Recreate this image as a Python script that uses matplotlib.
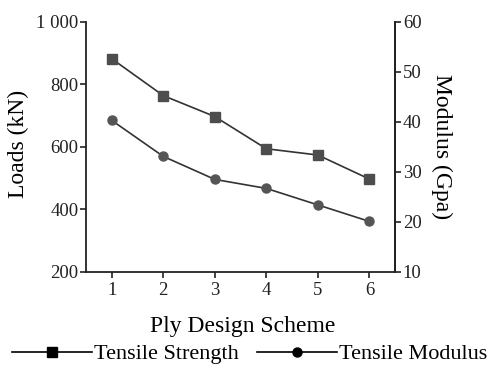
import matplotlib
matplotlib.use("Agg")
import matplotlib.pyplot as plt
from matplotlib.lines import Line2D

plt.rcParams['font.family'] = ['Liberation Serif', 'DejaVu Serif']

schemes = [1, 2, 3, 4, 5, 6]
strength = [882, 764, 697, 594, 574, 497]      # kN, left axis
modulus = [40.3, 33.1, 28.5, 26.7, 23.4, 20.1]  # GPa, right axis

fig = plt.figure(figsize=(4.94, 3.70), dpi=100)
ax = fig.add_axes([0.174, 0.265, 0.626, 0.676])
ax2 = ax.twinx()

ax.plot(schemes, strength, color='#333333', lw=1.2, marker='s', ms=7,
        mfc='#4d4d4d', mec='#4d4d4d')
ax2.plot(schemes, modulus, color='#333333', lw=1.2, marker='o', ms=6.5,
         mfc='#555555', mec='#555555')

ax.set_xlim(0.5, 6.5)
ax.set_ylim(200, 1000)
ax.set_yticks([200, 400, 600, 800, 1000])
ax.set_yticklabels(['200', '400', '600', '800', '1 000'])
ax.set_xticks(schemes)
ax2.set_ylim(10, 60)
ax2.set_yticks([10, 20, 30, 40, 50, 60])

for a in (ax, ax2):
    a.spines['top'].set_visible(False)
    for s in a.spines.values():
        s.set_linewidth(1.3)
        s.set_color('#222222')
    a.tick_params(length=4, width=1.2, labelsize=13.5, pad=1.5, colors='#222222')
ax.tick_params(axis='x', pad=3)
ax2.spines['left'].set_visible(False)
ax2.spines['bottom'].set_visible(False)

ax.set_xlabel('Ply Design Scheme', fontsize=17)
ax.xaxis.set_label_coords(0.508, -0.175)
ax.set_ylabel('Loads (kN)', fontsize=17)
ax.yaxis.set_label_coords(-0.185, 0.51)
ax2.set_ylabel('Modulus (Gpa)', fontsize=17, rotation=270, va='center')
ax2.yaxis.set_label_coords(1.15, 0.5)

handles = [
    Line2D([], [], color='black', lw=1.2, marker='s', ms=6.5, mfc='black', mec='black'),
    Line2D([], [], color='black', lw=1.2, marker='o', ms=6.5, mfc='black', mec='black'),
]
fig.legend(handles, ['Tensile Strength', 'Tensile Modulus'], loc='center',
           bbox_to_anchor=(0.505, 0.043), ncol=2, frameon=False, fontsize=16,
           handlelength=3.6, handletextpad=0.1, columnspacing=0.8,
           numpoints=1, borderaxespad=0, borderpad=0)

fig.savefig('out.png', dpi=100)
